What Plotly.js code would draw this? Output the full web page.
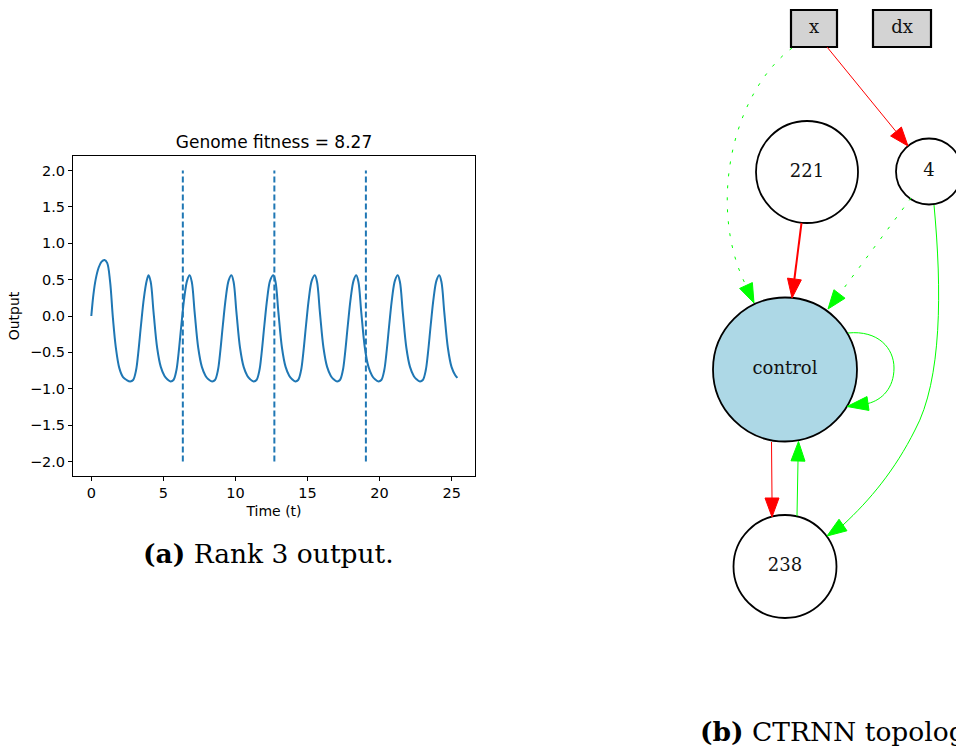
<!DOCTYPE html>
<html>
<head>
<meta charset="utf-8">
<script src="https://cdn.plot.ly/plotly-3.0.1.min.js"></script>
<style>
  html, body { margin: 0; padding: 0; background: #ffffff; overflow: hidden; }
  #fig { width: 956px; height: 749px; }
</style>
</head>
<body>
<div id="fig"></div>
<script>
// ---- (a) network output over time ----
const timeT = [
  0, 0.15, 0.3, 0.5, 0.7, 0.92, 1.1, 1.3, 1.5, 1.7, 1.95, 2.2, 2.45, 2.70,
  2.90, 3.10, 3.25, 3.45, 3.65, 3.85, 3.97, 4.12, 4.32, 4.57, 4.82, 5.07, 5.27, 5.50,
  5.70, 5.90, 6.05, 6.25, 6.45, 6.65, 6.82, 6.97, 7.17, 7.42, 7.67, 7.92, 8.12, 8.38,
  8.58, 8.78, 8.93, 9.13, 9.33, 9.53, 9.72, 9.87, 10.07, 10.32, 10.57, 10.82, 11.02, 11.26,
  11.46, 11.66, 11.81, 12.01, 12.21, 12.41, 12.63, 12.78, 12.98, 13.23, 13.48, 13.73, 13.93, 14.15,
  14.35, 14.55, 14.70, 14.90, 15.10, 15.30, 15.51, 15.66, 15.86, 16.11, 16.36, 16.61, 16.81, 17.05,
  17.25, 17.45, 17.60, 17.80, 18.00, 18.20, 18.38, 18.53, 18.73, 18.98, 19.23, 19.48, 19.68, 19.92,
  20.12, 20.32, 20.47, 20.67, 20.87, 21.07, 21.26, 21.41, 21.61, 21.86, 22.11, 22.36, 22.56, 22.80,
  23.00, 23.20, 23.35, 23.55, 23.75, 23.95, 24.14, 24.29, 24.49, 24.74, 24.99, 25.24, 25.40
];
const output = [
  0.00, 0.30, 0.50, 0.66, 0.745, 0.77, 0.73, 0.48, -0.03, -0.43, -0.72, -0.84, -0.88, -0.90,
  -0.88, -0.75, -0.52, -0.12, 0.25, 0.49, 0.56, 0.47, 0.05, -0.44, -0.70, -0.82, -0.87, -0.90,
  -0.88, -0.75, -0.52, -0.12, 0.25, 0.49, 0.56, 0.47, 0.05, -0.44, -0.70, -0.82, -0.87, -0.90,
  -0.88, -0.75, -0.52, -0.12, 0.25, 0.49, 0.56, 0.47, 0.05, -0.44, -0.70, -0.82, -0.87, -0.90,
  -0.88, -0.75, -0.52, -0.12, 0.25, 0.49, 0.56, 0.47, 0.05, -0.44, -0.70, -0.82, -0.87, -0.90,
  -0.88, -0.75, -0.52, -0.12, 0.25, 0.49, 0.56, 0.47, 0.05, -0.44, -0.70, -0.82, -0.87, -0.90,
  -0.88, -0.75, -0.52, -0.12, 0.25, 0.49, 0.56, 0.47, 0.05, -0.44, -0.70, -0.82, -0.87, -0.90,
  -0.88, -0.75, -0.52, -0.12, 0.25, 0.49, 0.56, 0.47, 0.05, -0.44, -0.70, -0.82, -0.87, -0.90,
  -0.88, -0.75, -0.52, -0.12, 0.25, 0.49, 0.56, 0.47, 0.05, -0.44, -0.70, -0.81, -0.85
];
const stepTimes = [6.35, 12.7, 19.05];
const stepSpan = [-2, 2];
const fitness = 8.27;
const xTicks = [0, 5, 10, 15, 20, 25];
const yTicks = [-2.0, -1.5, -1.0, -0.5, 0.0, 0.5, 1.0, 1.5, 2.0];

// ---- (b) CTRNN topology ----
const nodeNames = ['x', 'dx', '221', '4', 'control', '238'];
const nodeKinds = ['input', 'input', 'hidden', 'hidden', 'output', 'hidden'];
const edgeFrom = ['x', 'x', '221', '4', 'control', '4', 'control', '238'];
const edgeTo = ['4', 'control', 'control', 'control', 'control', '238', '238', 'control'];
const edgeSign = [-1, 1, -1, 1, 1, 1, -1, 1];
const edgeEnabled = [true, false, true, false, true, true, true, true];
const edgeStrength = [1, 1, 2, 1, 1, 1, 1, 1];

// Graph drawing geometry (pixel-like units on the diagram axes)
const W = 956, H = 749;
const nodeGeom = {
  'x':       { shape: 'box', cx: 814, cy: 28.5, w: 46, h: 37 },
  'dx':      { shape: 'box', cx: 902, cy: 28.5, w: 58, h: 37 },
  '221':     { shape: 'circle', cx: 807, cy: 172, r: 51 },
  '4':       { shape: 'circle', cx: 929, cy: 171.5, r: 33 },
  'control': { shape: 'circle', cx: 785, cy: 369.5, r: 72 },
  '238':     { shape: 'circle', cx: 785, cy: 566.5, r: 51.5 }
};
// route for each edge: path up to the arrow base, then tip of the arrow
const edgeRoutes = [
  { d: 'M 827,47 L 896,131.5', base: [896, 131.5], tip: [908, 146] },
  { d: 'M 792,48 C 730,95 708,210 746,285.5', base: [746, 285.5], tip: [754, 303] },
  { d: 'M 801.5,223 L 794.4,279', base: [794.4, 279], tip: [792, 298] },
  { d: 'M 911,198 L 839.5,294', base: [839.5, 294], tip: [828, 309] },
  { d: 'M 848,333 C 878,330 894,348 894,368 C 894,388 882,400 868,403.5', base: [868, 403.5], tip: [847, 406.5] },
  { d: 'M 934,205 C 942,290 942,380 915,430 C 895,470 870,500 843,525', base: [843, 525], tip: [827, 536] },
  { d: 'M 771.5,442 L 772,498', base: [772, 498], tip: [772, 517] },
  { d: 'M 797,516 L 798,461', base: [798, 461], tip: [798.5, 441.5] }
];

const blue = '#1f77b4';
const sansFont = 'DejaVu Sans, sans-serif';
const serifFont = 'DejaVu Serif, serif';

// vertical step markers drawn from stepTimes
const vx = [], vy = [];
stepTimes.forEach(t => { vx.push(t, t, null); vy.push(stepSpan[0], stepSpan[1], null); });

const traces = [
  {
    x: timeT, y: output, type: 'scatter', mode: 'lines',
    line: { color: blue, width: 2, shape: 'spline', smoothing: 1 },
    xaxis: 'x', yaxis: 'y', hoverinfo: 'skip'
  },
  {
    x: vx, y: vy, type: 'scatter', mode: 'lines',
    line: { color: blue, width: 2, dash: '6px,3px' },
    xaxis: 'x', yaxis: 'y', hoverinfo: 'skip'
  },
  {
    x: nodeNames.map(n => nodeGeom[n].cx),
    y: nodeNames.map(n => nodeGeom[n].cy),
    text: nodeNames, type: 'scatter', mode: 'text',
    textposition: 'middle center',
    textfont: { family: serifFont, size: 18, color: '#111111' },
    xaxis: 'x2', yaxis: 'y2', hoverinfo: 'skip'
  }
];

const shapes = [];
nodeNames.forEach((n, i) => {
  const g = nodeGeom[n];
  const fill = nodeKinds[i] === 'input' ? '#d3d3d3' : (nodeKinds[i] === 'output' ? '#add8e6' : '#ffffff');
  if (g.shape === 'box') {
    shapes.push({ type: 'rect', xref: 'x2', yref: 'y2', layer: 'below',
      x0: g.cx - g.w / 2, x1: g.cx + g.w / 2, y0: g.cy - g.h / 2, y1: g.cy + g.h / 2,
      fillcolor: fill, line: { color: '#000000', width: 2.2 } });
  } else {
    shapes.push({ type: 'circle', xref: 'x2', yref: 'y2', layer: 'below',
      x0: g.cx - g.r, x1: g.cx + g.r, y0: g.cy - g.r, y1: g.cy + g.r,
      fillcolor: fill, line: { color: '#000000', width: 1.8 } });
  }
});
edgeRoutes.forEach((r, i) => {
  const col = edgeSign[i] > 0 ? '#00ff00' : '#ff0000';
  shapes.push({ type: 'path', xref: 'x2', yref: 'y2', path: r.d,
    line: { color: col, width: edgeStrength[i] === 2 ? 2 : 1, dash: edgeEnabled[i] ? 'solid' : '3px,9px' } });
  // arrow head: triangle from base to tip
  const dx = r.tip[0] - r.base[0], dy = r.tip[1] - r.base[1];
  const len = Math.hypot(dx, dy);
  const px = -dy / len * 7, py = dx / len * 7;
  const p = `M ${r.tip[0]},${r.tip[1]} L ${r.base[0] + px},${r.base[1] + py} L ${r.base[0] - px},${r.base[1] - py} Z`;
  shapes.push({ type: 'path', xref: 'x2', yref: 'y2', path: p,
    fillcolor: col, line: { color: col, width: 1 } });
});

const layout = {
  width: W, height: H,
  margin: { l: 0, r: 0, t: 0, b: 0 },
  paper_bgcolor: '#ffffff', plot_bgcolor: 'rgba(0,0,0,0)',
  showlegend: false,
  title: {
    text: 'Genome fitness = ' + fitness.toFixed(2),
    x: 274 / W, xanchor: 'center', xref: 'paper',
    y: 1 - 142 / H, yanchor: 'middle', yref: 'paper',
    font: { family: sansFont, size: 17, color: '#000000' }
  },
  xaxis: {
    domain: [73 / W, 475 / W], range: [-1.27, 26.62], anchor: 'y',
    tickvals: xTicks, ticktext: xTicks.map(String),
    ticks: 'outside', ticklen: 4, tickwidth: 1, tickcolor: '#000000',
    showline: true, mirror: true, linecolor: '#000000', linewidth: 1,
    showgrid: false, zeroline: false,
    tickfont: { family: sansFont, size: 14.5, color: '#000000' },
    title: { text: 'Time (t)', standoff: 5, font: { family: sansFont, size: 14, color: '#000000' } }
  },
  yaxis: {
    domain: [1 - 476 / H, 1 - 156 / H], range: [-2.2, 2.2], anchor: 'x',
    tickvals: yTicks, ticktext: yTicks.map(v => (v < 0 ? '\u2212' : '') + Math.abs(v).toFixed(1)),
    ticks: 'outside', ticklen: 4, tickwidth: 1, tickcolor: '#000000',
    showline: true, mirror: true, linecolor: '#000000', linewidth: 1,
    showgrid: false, zeroline: false,
    tickfont: { family: sansFont, size: 14.5, color: '#000000' },
    title: { text: 'Output', standoff: 6, font: { family: sansFont, size: 14, color: '#000000' } }
  },
  xaxis2: { domain: [0, 1], range: [0, W], anchor: 'y2', visible: false, fixedrange: true },
  yaxis2: { domain: [0, 1], range: [H, 0], anchor: 'x2', visible: false, fixedrange: true },
  shapes: shapes,
  annotations: [
    { xref: 'paper', yref: 'paper', x: 268 / W, y: 1 - 553 / H, xanchor: 'center', yanchor: 'middle',
      text: '<b>(a)</b> Rank 3 output.', showarrow: false,
      font: { family: serifFont, size: 26.5, color: '#000000' } },
    { xref: 'paper', yref: 'paper', x: 698 / W, y: 1 - 731 / H, xanchor: 'left', yanchor: 'middle',
      text: '<b>(b)</b> CTRNN topology.', showarrow: false,
      font: { family: serifFont, size: 26.5, color: '#000000' } }
  ]
};

Plotly.newPlot('fig', traces, layout, { staticPlot: true, displayModeBar: false });
</script>
</body>
</html>
